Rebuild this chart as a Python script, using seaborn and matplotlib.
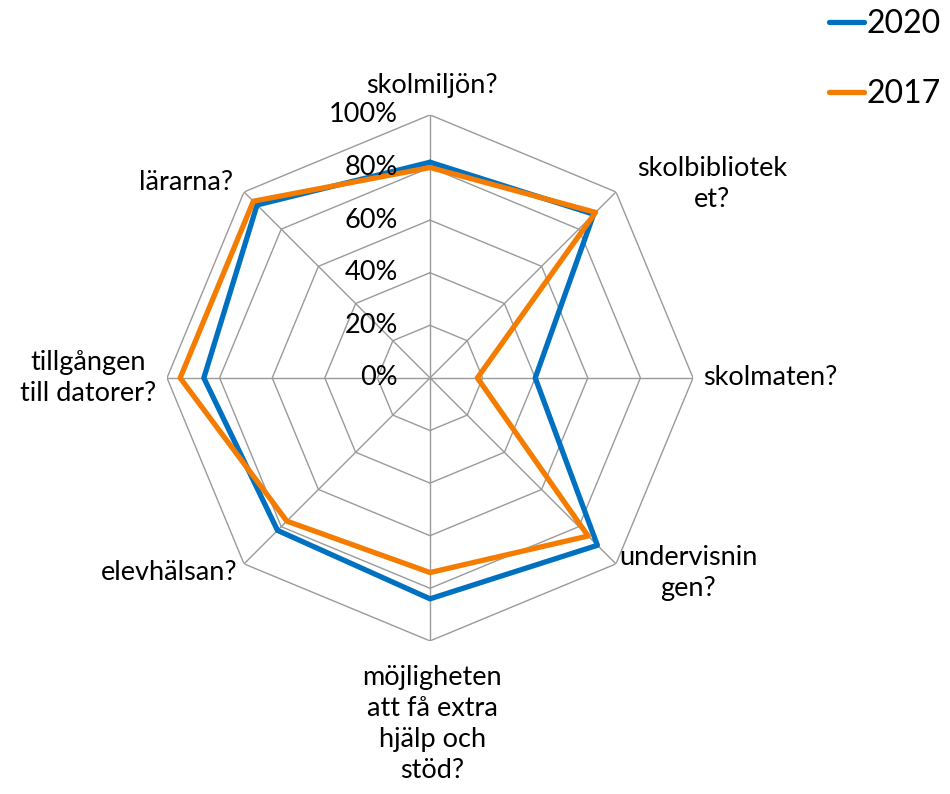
import numpy as np
import pandas as pd
import seaborn as sns
import matplotlib.pyplot as plt
from matplotlib.lines import Line2D

# data
categories = ["skolmiljön?", "skolbibliotek\net?", "skolmaten?", "undervisnin\ngen?",
              "möjligheten\natt få extra\nhjälp och\nstöd?", "elevhälsan?",
              "tillgången\ntill datorer?", "lärarna?"]
values_2020 = [0.82, 0.88, 0.40, 0.90, 0.84, 0.82, 0.86, 0.93]
values_2017 = [0.80, 0.89, 0.18, 0.85, 0.74, 0.77, 0.95, 0.95]
years = ["2020", "2017"]
r_ticks = [0.0, 0.2, 0.4, 0.6, 0.8, 1.0]
r_labels = ["0%", "20%", "40%", "60%", "80%", "100%"]

colors = {"2020": "#0070C0", "2017": "#F47C00"}

sns.set_theme(style="white")
plt.rcParams['font.family'] = ['Lato', 'DejaVu Sans']
plt.rcParams['text.color'] = 'black'

n = len(categories)
theta = np.linspace(0, 2 * np.pi, n, endpoint=False)
theta_closed = np.append(theta, 2 * np.pi)

rows = []
for year, vals in zip(years, [values_2020, values_2017]):
    vals_closed = list(vals) + [vals[0]]
    for t, v in zip(theta_closed, vals_closed):
        rows.append({"theta": t, "value": v, "year": year})
df = pd.DataFrame(rows)

fig = plt.figure(figsize=(9.5, 7.94), dpi=100)
ax = fig.add_axes([0.1758, 0.1928, 0.5537, 0.6625], projection='polar')
ax.set_theta_zero_location('N')
ax.set_theta_direction(-1)
ax.grid(False)
ax.spines['polar'].set_visible(False)
ax.set_xticks([])
ax.set_yticks([])

# octagon grid + spokes
for r in r_ticks[1:]:
    ax.plot(theta_closed, [r] * len(theta_closed), color="#9a9a9a", lw=1.0, zorder=1)
for t in theta:
    ax.plot([t, t], [0, 1], color="#9a9a9a", lw=1.0, zorder=1)

sns.lineplot(data=df, x="theta", y="value", hue="year", hue_order=years,
             palette=colors, sort=False, estimator=None, lw=3.8,
             legend=False, ax=ax, zorder=3)
ax.set_ylim(0, 1)
ax.set_xlabel("")
ax.set_ylabel("")

# radial tick labels
for r, lab in zip(r_ticks, r_labels):
    ax.annotate(lab, xy=(0, r), xytext=(-23, 0), textcoords='offset points',
                ha='right', va='center', fontsize=19.5, color='black', zorder=5)

# category labels
offsets = [(1.5, 21, 'center'), (69, 6, 'center'), (7, 0, 'left'), (52, -6.5, 'center'),
           (1.5, -60, 'center'), (-5, -6.5, 'right'), (-57, 0, 'center'), (-42, 6.5, 'center')]
for t, lab, (dx, dy, ha) in zip(theta, categories, offsets):
    ax.annotate(lab, xy=(t, 1.0), xytext=(dx, dy), textcoords='offset points',
                ha=ha, va='center', multialignment='center', fontsize=19.5,
                color='black', linespacing=1.3, annotation_clip=False)

handles = [Line2D([0], [0], color=colors[y], lw=3.8, solid_capstyle='round') for y in years]
fig.legend(handles, years, loc='upper right', bbox_to_anchor=(1.02, 1.025), frameon=False,
           fontsize=23, handlelength=1.1, handletextpad=0.05, labelspacing=1.25,
           labelcolor='black')

plt.savefig("out.png", dpi=100)
